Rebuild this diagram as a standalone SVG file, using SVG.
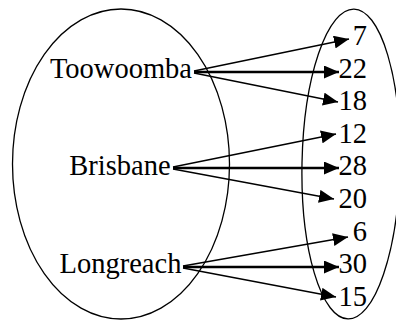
<svg xmlns="http://www.w3.org/2000/svg" width="396" height="320" viewBox="0 0 396 320">
<style>
.set{fill:none;stroke:#000;stroke-width:1.3}
text{font-family:"Liberation Serif","Times New Roman",serif;font-size:28.5px;fill:#000}
.num{text-anchor:end}
.a{stroke:#000;stroke-width:1.3;fill:none;marker-end:url(#ah)}
.h{stroke-width:2.5}
</style>
<defs>
<marker id="ah" markerUnits="userSpaceOnUse" markerWidth="16" markerHeight="13" refX="15" refY="6.5" orient="auto">
<path d="M0,0 L15,6.5 L0,13 z" fill="#000"/>
</marker>
</defs>
<g id="domain">
<ellipse class="set" cx="121" cy="164" rx="108.5" ry="155"/>
<text x="121" y="78" text-anchor="middle">Toowoomba</text>
<text x="120" y="175" text-anchor="middle">Brisbane</text>
<text x="120.5" y="273" text-anchor="middle">Longreach</text>
</g>
<g id="codomain">
<ellipse class="set" cx="351" cy="164" rx="49" ry="155" transform="rotate(1.1 351 164)"/>
<text class="num" x="367" y="45">7</text>
<text class="num" x="367" y="78">22</text>
<text class="num" x="367" y="110">18</text>
<text class="num" x="367" y="143">12</text>
<text class="num" x="367" y="175">28</text>
<text class="num" x="367" y="208">20</text>
<text class="num" x="367" y="241">6</text>
<text class="num" x="367" y="273">30</text>
<text class="num" x="367" y="306">15</text>
</g>
<g id="connectors">
<line class="a" x1="194" y1="71" x2="349" y2="39"/>
<line class="a h" x1="194" y1="72" x2="339" y2="72"/>
<line class="a" x1="194" y1="73" x2="338" y2="102"/>
<line class="a" x1="173" y1="167" x2="336" y2="134"/>
<line class="a h" x1="173" y1="168" x2="339" y2="168"/>
<line class="a" x1="173" y1="169" x2="334" y2="199"/>
<line class="a" x1="183" y1="266" x2="348" y2="237"/>
<line class="a h" x1="183" y1="267" x2="339" y2="267"/>
<line class="a" x1="183" y1="268" x2="336" y2="297"/>
</g>
</svg>
